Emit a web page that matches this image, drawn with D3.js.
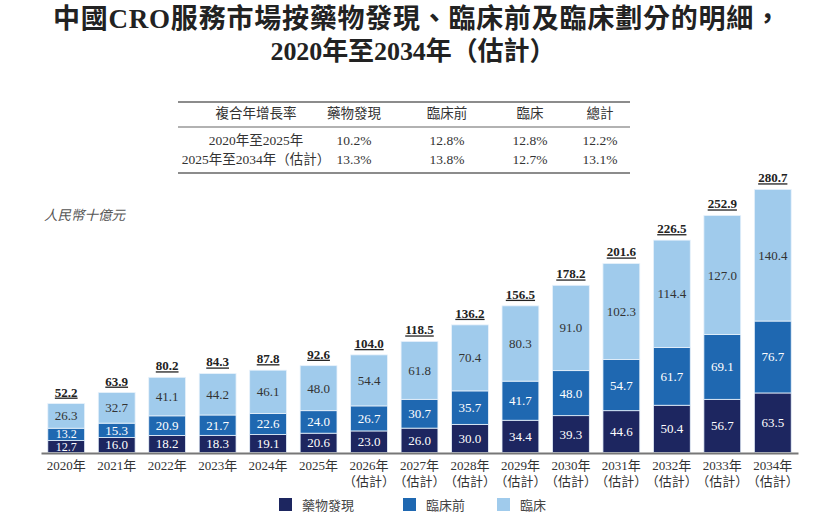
<!DOCTYPE html>
<html>
<head>
<meta charset="utf-8">
<script src="https://cdn.jsdelivr.net/npm/d3@7"></script>
<style>
  body { margin: 0; background: #fff; }
  svg text { font-family: "Liberation Serif", "Noto Sans CJK TC", serif; }
</style>
</head>
<body>
<div id="chart"></div>
<script>
const years = ['2020年', '2021年', '2022年', '2023年', '2024年', '2025年', '2026年', '2027年',
  '2028年', '2029年', '2030年', '2031年', '2032年', '2033年', '2034年']
const estimated = [false, false, false, false, false, false, true, true, true, true, true, true, true, true, true]
const drugDiscovery = [12.7, 16.0, 18.2, 18.3, 19.1, 20.6, 23.0, 26.0, 30.0, 34.4, 39.3, 44.6, 50.4, 56.7, 63.5]
const preclinical = [13.2, 15.3, 20.9, 21.7, 22.6, 24.0, 26.7, 30.7, 35.7, 41.7, 48.0, 54.7, 61.7, 69.1, 76.7]
const clinical = [26.3, 32.7, 41.1, 44.2, 46.1, 48.0, 54.4, 61.8, 70.4, 80.3, 91.0, 102.3, 114.4, 127.0, 140.4]
const totals = [52.2, 63.9, 80.2, 84.3, 87.8, 92.6, 104.0, 118.5, 136.2, 156.5, 178.2, 201.6, 226.5, 252.9, 280.7]

const seriesNames = ['藥物發現', '臨床前', '臨床']
const seriesColors = ['#1d2660', '#1f68b1', '#a0cbec']
const labelColors = ['#ffffff', '#ffffff', '#333333']

const cagrHeader = ['複合年增長率', '藥物發現', '臨床前', '臨床', '總計']
const cagrRows = [
  ['2020年至2025年', '10.2%', '12.8%', '12.8%', '12.2%'],
  ['2025年至2034年（估計）', '13.3%', '13.8%', '12.7%', '13.1%']
]

const width = 830
const height = 522

const svg = d3
  .select('#chart')
  .append('svg')
  .attr('width', width)
  .attr('height', height)

// title
const title = svg.append('g').attr('fill', '#222').attr('font-weight', 'bold')
title
  .append('text')
  .attr('x', 417)
  .attr('y', 28)
  .attr('text-anchor', 'middle')
  .attr('textLength', 728)
  .attr('lengthAdjust', 'spacing')
  .style('font-size', '27px')
  .text('中國CRO服務市場按藥物發現、臨床前及臨床劃分的明細，')
title
  .append('text')
  .attr('x', 413)
  .attr('y', 60)
  .attr('text-anchor', 'middle')
  .attr('textLength', 285)
  .attr('lengthAdjust', 'spacing')
  .style('font-size', '26px')
  .text('2020年至2034年（估計）')

// CAGR table
const colX = [256, 354, 447, 530, 600]
const table = svg.append('g').attr('fill', '#333').style('font-size', '13.5px')
;[102, 127, 173].forEach((y, i) => {
  table
    .append('line')
    .attr('x1', 178)
    .attr('x2', 630)
    .attr('y1', y)
    .attr('y2', y)
    .attr('stroke', '#666')
    .attr('stroke-width', i === 1 ? 1.2 : 1.5)
})
cagrHeader.forEach((t, i) => {
  table
    .append('text')
    .attr('x', colX[i])
    .attr('y', 118)
    .attr('text-anchor', 'middle')
    .text(t)
})
cagrRows.forEach((row, r) => {
  row.forEach((t, i) => {
    table
      .append('text')
      .attr('x', colX[i])
      .attr('y', 145 + r * 19)
      .attr('text-anchor', 'middle')
      .text(t)
  })
})

// unit
svg
  .append('text')
  .attr('x', 44)
  .attr('y', 220)
  .attr('fill', '#555')
  .style('font-size', '13.5px')
  .style('font-style', 'italic')
  .text('人民幣十億元')

// scales
const x = d3
  .scaleBand()
  .domain(years)
  .range([41, 798])
  .paddingInner(0.27)
  .paddingOuter(0.135)

const y = d3
  .scaleLinear()
  .domain([0, 280.7])
  .range([452.5, 189.3])

const data = years.map((yr, i) => ({
  year: yr,
  est: estimated[i],
  values: [drugDiscovery[i], preclinical[i], clinical[i]],
  total: totals[i]
}))

const bars = svg
  .selectAll('.bar')
  .data(data)
  .enter()
  .append('g')
  .attr('class', 'bar')

bars.each(function(d) {
  const g = d3.select(this)
  let base = 0
  d.values.forEach((v, k) => {
    const y0 = y(base)
    const y1 = y(base + v)
    g.append('rect')
      .attr('x', x(d.year))
      .attr('width', x.bandwidth())
      .attr('y', y1)
      .attr('height', y0 - y1)
      .attr('fill', seriesColors[k])
      .attr('stroke', '#e8f2fb')
      .attr('stroke-width', 0.8)
    // the two small 2020 segments are squeezed, so their labels get a slightly smaller font
    const small = y0 - y1 < 14
    g.append('text')
      .attr('x', x(d.year) + x.bandwidth() / 2)
      .attr('y', (y0 + y1) / 2 + (small ? 4 : 4.5))
      .attr('text-anchor', 'middle')
      .attr('fill', labelColors[k])
      .style('font-size', small ? '12px' : '13px')
      .text(d3.format('.1f')(v))
    base += v
  })
})

// totals, bold + underlined
bars
  .append('text')
  .attr('x', d => x(d.year) + x.bandwidth() / 2)
  .attr('y', d => y(d.total) - 7)
  .attr('text-anchor', 'middle')
  .attr('fill', '#222')
  .attr('font-weight', 'bold')
  .style('font-size', '13px')
  .style('text-decoration', 'underline')
  .text(d => d3.format('.1f')(d.total))

// axis
const xAxis = svg
  .append('g')
  .attr('transform', 'translate(0,' + 453 + ')')
  .call(d3.axisBottom(x).tickSize(0).tickFormat(''))
xAxis.select('.domain').attr('stroke', '#777').attr('stroke-width', 2)

const yearLabels = svg.append('g').attr('fill', '#333').style('font-size', '13px')
data.forEach(d => {
  const cx = x(d.year) + x.bandwidth() / 2
  yearLabels
    .append('text')
    .attr('x', cx)
    .attr('y', 470)
    .attr('text-anchor', 'middle')
    .text(d.year)
  if (d.est) {
    yearLabels
      .append('text')
      .attr('x', cx)
      .attr('y', 486)
      .attr('text-anchor', 'middle')
      .text('（估計）')
  }
})

// legend
const legendX = [279, 403, 497]
const legend = svg.append('g')
seriesNames.forEach((name, i) => {
  legend
    .append('rect')
    .attr('x', legendX[i])
    .attr('y', 498)
    .attr('width', 13)
    .attr('height', 13)
    .attr('fill', seriesColors[i])
  legend
    .append('text')
    .attr('x', legendX[i] + 23)
    .attr('y', 509.5)
    .attr('fill', '#444')
    .style('font-size', '13px')
    .text(name)
})
</script>
</body>
</html>
